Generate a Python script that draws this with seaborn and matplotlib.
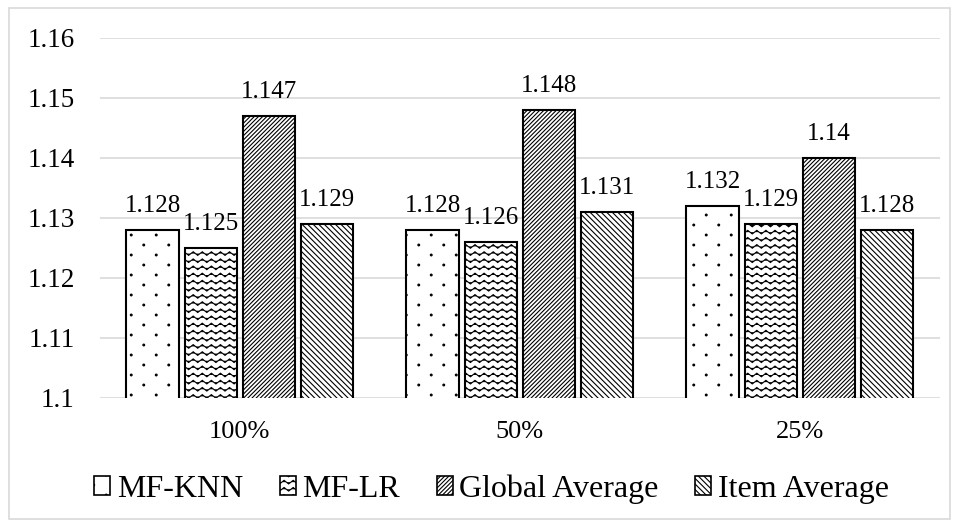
import numpy as np
import pandas as pd
import matplotlib
matplotlib.use("Agg")
import matplotlib.pyplot as plt
import matplotlib.hatch as mhatch
from matplotlib.path import Path
from matplotlib.patches import Patch, Rectangle
import seaborn as sns

# ---- data ----
categories = ["100%", "50%", "25%"]
methods = ["MF-KNN", "MF-LR", "Global Average", "Item Average"]
mf_knn = [1.128, 1.128, 1.132]
mf_lr = [1.125, 1.126, 1.129]
global_avg = [1.147, 1.148, 1.14]
item_avg = [1.129, 1.131, 1.128]
y_ticks = [1.1, 1.11, 1.12, 1.13, 1.14, 1.15, 1.16]


# ---- custom hatch patterns ----
class Waves(mhatch.HatchPatternBase):
    """wavy rows (uses the '*' character)"""
    npts = 45

    def __init__(self, hatch, density):
        self.num_rows = int(hatch.count('*') * 7)
        self.num_vertices = self.num_rows * self.npts

    def set_vertices_and_codes(self, vertices, codes):
        xs = np.linspace(0, 1, self.npts)
        ys = 0.018 * np.sin(2 * np.pi * 11 * xs)
        k = 0
        for i in range(self.num_rows):
            y0 = (i + 0.5) / self.num_rows
            vertices[k:k + self.npts, 0] = xs
            vertices[k:k + self.npts, 1] = y0 + ys
            codes[k] = Path.MOVETO
            codes[k + 1:k + self.npts] = Path.LINETO
            k += self.npts


class Dots(mhatch.HatchPatternBase):
    """small staggered filled dots (uses the '.' character)"""
    def __init__(self, hatch, density):
        n = hatch.count('.')
        self.ncols = 4 * n
        self.nrows = 10 * n
        self.circ = Path.unit_circle()
        self.num_vertices = self.ncols * self.nrows * len(self.circ.vertices)

    def set_vertices_and_codes(self, vertices, codes):
        cv = self.circ.vertices * 0.009
        cc = self.circ.codes
        m = len(cv)
        k = 0
        for r in range(self.nrows):
            y = (r + 0.5) / self.nrows
            for c in range(self.ncols):
                x = (c + 0.25 + (0.5 if r % 2 else 0.0)) / self.ncols
                vertices[k:k + m] = cv + (x, y)
                codes[k:k + m] = cc
                k += m


new_types = []
for t in mhatch._hatch_types:
    if t is mhatch.Stars:
        new_types.append(Waves)
    elif t is mhatch.SmallFilledCircles:
        new_types.append(Dots)
    else:
        new_types.append(t)
mhatch._hatch_types = new_types

hatches = [".", "**", "////////", "\\\\\\\\\\\\"]

df = pd.DataFrame({
    "cat": np.repeat(categories, 4),
    "method": methods * 3,
    "val": np.ravel(np.column_stack([mf_knn, mf_lr, global_avg, item_avg])),
})

sns.set_theme(style="white")
plt.rcParams["font.family"] = ["Liberation Serif", "DejaVu Serif"]
plt.rcParams["hatch.linewidth"] = 0.8
plt.rcParams["hatch.color"] = "black"

fig = plt.figure(figsize=(9.59, 5.27), dpi=100)
ax = fig.add_axes([0.104, 0.245, 0.876, 0.683])

sns.barplot(data=df, x="cat", y="val", hue="method", order=categories,
            hue_order=methods, palette=["white"] * 4, edgecolor="black",
            linewidth=1.5, width=0.83, gap=0.1, legend=False, ax=ax, zorder=3)

for cont, h in zip(ax.containers, hatches):
    for p in cont:
        p.set_hatch(h)
    ax.bar_label(cont, fmt="%g", padding=9, fontsize=18, color="black")

ax.set_ylim(1.1, 1.16)
ax.set_yticks(y_ticks)
ax.set_yticklabels([f"{t:g}" for t in y_ticks])
ax.yaxis.grid(True, color="#d9d9d9", linewidth=1.2, zorder=0)
ax.set_axisbelow(True)
for s in ax.spines.values():
    s.set_visible(False)
ax.tick_params(axis="both", length=0, colors="black")
ax.tick_params(axis="y", pad=18, labelsize=19.5)
ax.tick_params(axis="x", pad=17, labelsize=19)
ax.set_xlabel("")
ax.set_ylabel("")

handles = [Patch(facecolor="white", edgecolor="black", hatch=h, linewidth=1.2) for h in hatches]
fig.legend(handles, methods, loc="center", bbox_to_anchor=(0.5125, 0.072), ncol=4,
           frameon=False, fontsize=23, handlelength=0.5, handleheight=0.5,
           handletextpad=0.2, columnspacing=1.15, labelcolor="black",
           borderpad=0, borderaxespad=0)

fig.patches.append(Rectangle((0.009, 0.016), 0.982, 0.968, transform=fig.transFigure,
                             fill=False, edgecolor="#d9d9d9", linewidth=1.2))

fig.savefig("out.png", dpi=100)
